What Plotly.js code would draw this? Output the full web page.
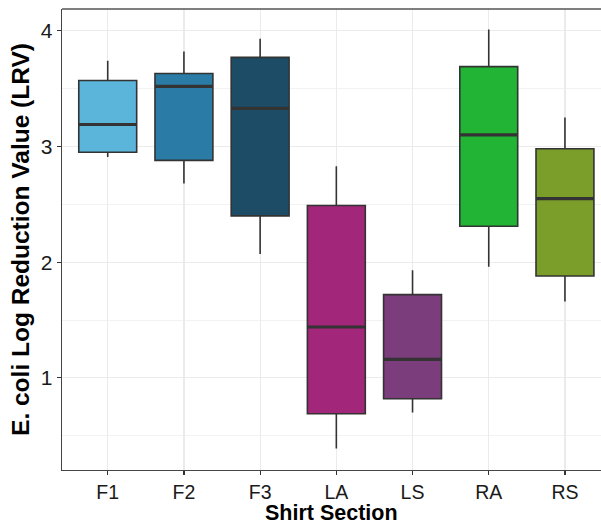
<!DOCTYPE html>
<html>
<head>
<meta charset="utf-8">
<script src="https://cdn.plot.ly/plotly-3.0.1.min.js"></script>
<style>html,body{margin:0;padding:0;overflow:hidden;background:#fff;}#chart{width:601px;height:526px;}</style>
</head>
<body>
<div id="chart"></div>
<script>
var categories = ["F1", "F2", "F3", "LA", "LS", "RA", "RS"];
var lowerWhisker = [2.91, 2.68, 2.07, 0.39, 0.70, 1.96, 1.66];
var q1Values = [2.95, 2.88, 2.40, 0.69, 0.82, 2.31, 1.88];
var medianValues = [3.19, 3.52, 3.33, 1.44, 1.16, 3.10, 2.55];
var q3Values = [3.57, 3.63, 3.77, 2.49, 1.72, 3.69, 2.98];
var upperWhisker = [3.74, 3.82, 3.93, 2.83, 1.93, 4.01, 3.25];
var boxColors = ["#5bb4da", "#2a7ca7", "#1d4d66", "#a2267a", "#7b3d7b", "#22b434", "#7b9e2a"];

var boxWidth = 0.76;
var traces = categories.map(function (c, i) {
  return {
    type: "box",
    x: [i],
    q1: [q1Values[i]],
    median: [medianValues[i]],
    q3: [q3Values[i]],
    lowerfence: [lowerWhisker[i]],
    upperfence: [upperWhisker[i]],
    name: c,
    width: boxWidth,
    whiskerwidth: 0,
    fillcolor: boxColors[i],
    line: {color: "#333333", width: 1.6},
    hoverinfo: "skip",
    showlegend: false
  };
});

var shapes = categories.map(function (c, i) {
  return {
    type: "line", xref: "x", yref: "y",
    x0: i - boxWidth / 2, x1: i + boxWidth / 2,
    y0: medianValues[i], y1: medianValues[i],
    line: {color: "#333333", width: 3.2}
  };
});
// top panel border (right side is cut off by the frame edge)
shapes.push({type: "line", xref: "paper", yref: "paper", x0: 0, x1: 1, y0: 1, y1: 1,
             line: {color: "#555555", width: 1.3}});

var layout = {
  width: 601,
  height: 526,
  margin: {l: 62, r: 0, t: 9, b: 56},
  paper_bgcolor: "#ffffff",
  plot_bgcolor: "#ffffff",
  font: {family: "Liberation Sans, Arial, sans-serif", color: "#1a1a1a"},
  boxmode: "overlay",
  showlegend: false,
  shapes: shapes,
  annotations: [{
    text: "<b>Shirt Section</b>", xref: "paper", yref: "paper",
    x: 0.5, y: -0.1225, xanchor: "center", yanchor: "bottom", showarrow: false,
    borderpad: 0,
    font: {size: 21.5, color: "#000000"}
  }],
  xaxis: {
    range: [-0.6, 6.473],
    tickmode: "array",
    tickvals: categories.map(function (c, i) { return i; }),
    ticktext: categories,
    tickfont: {size: 19.5, color: "#1a1a1a"},
    ticks: "outside", ticklen: 4, tickwidth: 1.2, tickcolor: "#333333",
    showgrid: true, gridcolor: "#ebebeb", gridwidth: 1.2,
    zeroline: false,
    showline: true, linecolor: "#444444", linewidth: 1.3, mirror: false
  },
  yaxis: {
    range: [0.204, 4.188],
    tickmode: "array",
    tickvals: [1, 2, 3, 4],
    ticktext: ["1", "2", "3", "4"],
    tickfont: {size: 21, color: "#1a1a1a"},
    ticks: "outside", ticklen: 4, tickwidth: 1.2, tickcolor: "#333333",
    showgrid: true, gridcolor: "#ebebeb", gridwidth: 1.2,
    minor: {tickvals: [0.5, 1.5, 2.5, 3.5], showgrid: true, gridcolor: "#f2f2f2", gridwidth: 1, ticks: ""},
    zeroline: false,
    showline: true, linecolor: "#444444", linewidth: 1.3, mirror: false,
    title: {text: "<b>E. coli Log Reduction Value (LRV)</b>", font: {size: 24.5, color: "#000000"}, standoff: 4}
  }
};

Plotly.newPlot("chart", traces, layout, {staticPlot: true, displayModeBar: false});
</script>
</body>
</html>
